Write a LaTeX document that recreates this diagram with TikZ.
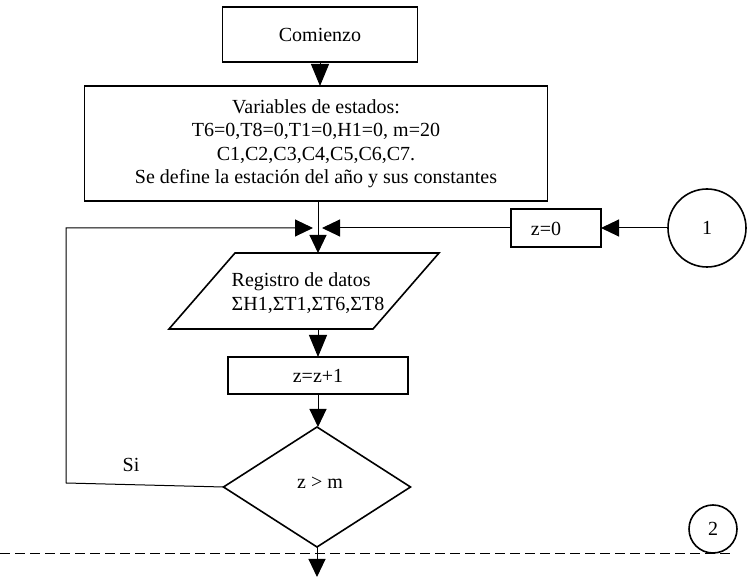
\documentclass[tikz,border=0pt]{standalone}
\usepackage{fontspec}
\setmainfont{Liberation Serif}
\usetikzlibrary{shapes.geometric,arrows.meta}
\begin{document}
\begin{tikzpicture}[x=1pt,y=-1pt,
  txt/.style={font=\fontsize{20}{23.5}\selectfont},
  box/.style={draw, line width=1.6pt, inner sep=0pt, outer sep=0pt, txt},
  conn/.style={line width=1pt},
  arr/.style={conn, -{Triangle[length=18pt,width=17pt]}},
  longarr/.style={conn, -{Triangle[length=22pt,width=18pt]}},
  lbl/.style={inner sep=0pt, txt}]
\useasboundingbox (0,0) rectangle (748,577);
% nodes
\node[box, minimum width=195pt, minimum height=55pt] (start) at (320,34.5) {Comienzo};
\node[box, minimum width=463pt, minimum height=115pt, align=center] (vars) at (316,143.5)
  {Variables de estados:\\T6=0,T8=0,T1=0,H1=0, m=20\\C1,C2,C3,C4,C5,C6,C7.\\Se define la estación del año y sus constantes};
\node[box, minimum width=90pt, minimum height=38pt] (z0) at (556,228) {};
\node[lbl] (z0t) at (546,229) {z=0};
\node[box, circle, minimum size=78pt] (c1) at (707,228) {1};
\node[inner sep=0pt, outer sep=0pt, minimum width=204pt, minimum height=76pt] (reg) at (304,291) {};
\draw[line width=1.6pt] (reg.center) ++(-69,-38) -- ++(204,0) -- ++(-66,76) -- ++(-204,0) -- cycle;
\node[lbl, align=left] (regt) at (308,293) {Registro de datos\\ΣH1,ΣT1,ΣT6,ΣT8};
\node[box, minimum width=180pt, minimum height=37pt] (zz) at (318,375.5) {z=z+1};
\node[box, diamond, minimum width=187pt, minimum height=120pt] (dec) at (317,487) {};
\node[lbl] (dect) at (320,483) {z > m};
\node[lbl] (si) at (131,465) {Si};
\node[box, circle, minimum size=48pt] (c2) at (713,529) {2};
% coordinates
\coordinate (j) at (318,228);
\coordinate (jl) at (313,228);
\coordinate (jr) at (322,228);
\coordinate (lc) at (66,483);
\coordinate (endp) at (317,577);
% connectors
\draw[longarr] (start.south) -- (start.south |- vars.north);
\draw[conn] (vars.south -| j) -- (j);
\draw[arr] (j) -- (j |- reg.north);
\draw[arr] (c1.west) -- (z0.east);
\draw[arr] (z0.west) -- (jr);
\draw[arr] (dec.west) -- (lc) |- (jl);
\draw[longarr] (zz.north |- reg.south) -- (zz.north);
\draw[arr] (zz.south) -- (zz.south |- dec.north);
\draw[arr] (dec.south) -- (endp);
\draw[conn, dash pattern=on 10pt off 5pt] (0,554) -- (733,554);
\end{tikzpicture}
\end{document}
